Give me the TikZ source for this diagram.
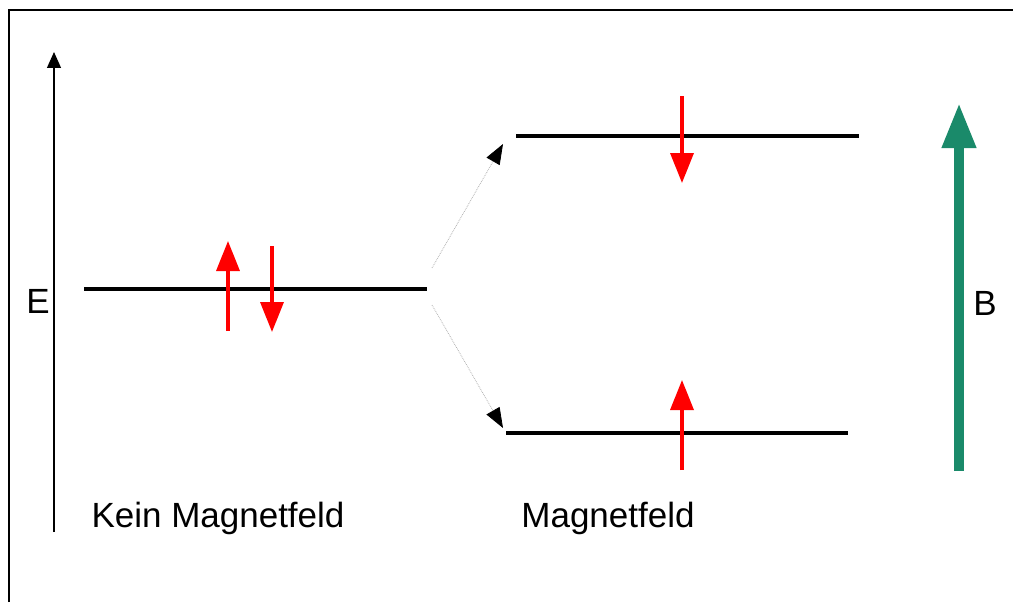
\documentclass[tikz,border=0pt]{standalone}
\usepackage{fontspec}
\setmainfont{Liberation Sans}
\usetikzlibrary{arrows.meta}
\definecolor{bgreen}{RGB}{26,138,106}
\tikzset{
  level/.style={line width=3.5pt, black},
  spin/.style={line width=3.5pt, red, -{Triangle[length=30pt,width=23pt]}},
  split/.style={line width=0.8pt, gray!60, densely dotted, -{Triangle[length=20pt,width=15pt,color=black,fill=black]}},
  lbl/.style={inner sep=0pt, font=\fontsize{35}{38}\selectfont}
}
\begin{document}
\begin{tikzpicture}[x=1pt,y=-1pt]
\useasboundingbox (0,0) rectangle (1014,602);
% frame
\draw[line width=1.5pt] (9,602) -- (9,10) -- (1013,10);
% energy axis
\coordinate (e0) at (54,532);
\coordinate (e1) at (54,52);
\draw[line width=1.3pt, -{Triangle[length=16pt,width=14pt]}] (e0) -- (e1);
\node[lbl] (E) at (38,301) {E};
% levels
\coordinate (l0a) at (84,289); \coordinate (l0b) at (427,289);
\coordinate (l1a) at (516,136); \coordinate (l1b) at (859,136);
\coordinate (l2a) at (506,433); \coordinate (l2b) at (848,433);
\draw[level] (l0a) -- (l0b);
\draw[level] (l1a) -- (l1b);
\draw[level] (l2a) -- (l2b);
% spins
\coordinate (s1a) at (228,331); \coordinate (s1b) at (228,241);
\coordinate (s2a) at (272,246); \coordinate (s2b) at (272,332);
\coordinate (s3a) at (682,96);  \coordinate (s3b) at (682,183);
\coordinate (s4a) at (682,470); \coordinate (s4b) at (682,380);
\draw[spin] (s1a) -- (s1b);
\draw[spin] (s2a) -- (s2b);
\draw[spin] (s3a) -- (s3b);
\draw[spin] (s4a) -- (s4b);
% splitting arrows
\coordinate (d0) at (432,268); \coordinate (d1) at (503,144);
\coordinate (u0) at (432,305); \coordinate (u1) at (503,428);
\draw[split] (d0) -- (d1);
\draw[split] (u0) -- (u1);
% magnetic field
\coordinate (b0) at (959,471); \coordinate (b1) at (959,103);
\draw[line width=10pt, bgreen, -{Triangle[length=45pt,width=32pt]}] (b0) -- (b1);
\node[lbl] (B) at (985,303) {B};
% labels
\node[lbl] (k) at (218,518) {Kein Magnetfeld};
\node[lbl] (m) at (608,518) {Magnetfeld};
\end{tikzpicture}
\end{document}
